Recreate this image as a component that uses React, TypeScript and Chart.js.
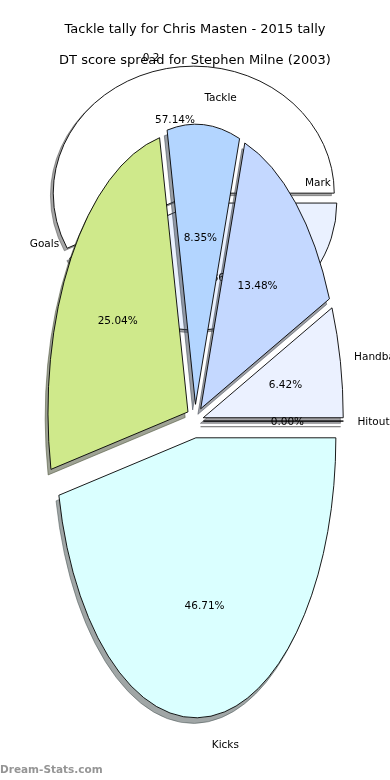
import React, { useEffect, useRef } from 'react';
import { Chart, registerables } from 'chart.js';
Chart.register(...registerables);

// ---- background pie: tackle tally ----
const bgTitle = 'Tackle tally for Chris Masten - 2015 tally';
const bgLabels = ['0.2', '0.1'];
const bgValues = [4, 3];
const bgColors = ['#ffffff', '#eaf1ff'];

// ---- foreground pie: DT score spread ----
const fgTitle = 'DT score spread for Stephen Milne (2003)';
const fgLabels = ['Hitout', 'Handball', 'Mark', 'Tackle', 'Goals', 'Kicks'];
const fgValues = [0, 6.42, 13.48, 8.35, 25.04, 46.71];
const fgColors = ['#f0f0f0', '#ebf1ff', '#c4d8ff', '#b3d5ff', '#cfe98b', '#daffff'];

const watermark = 'Dream-Stats.com';
const FONT = '"DejaVu Sans", Verdana, sans-serif';

function shadowColor(hex: string) {
  const n = parseInt(hex.slice(1), 16);
  const r = (n >> 16) & 255, g = (n >> 8) & 255, b = n & 255;
  return `rgba(${Math.round(r * 0.3)},${Math.round(g * 0.3)},${Math.round(b * 0.3)},0.5)`;
}

const ellipsePie = {
  id: 'ellipsePie',
  beforeDatasetsDraw(chart: any, _args: any, opts: any) {
    const ctx = chart.ctx as CanvasRenderingContext2D;
    const meta = chart.getDatasetMeta(0);
    const ds = chart.data.datasets[0];
    const total = ds.data.reduce((a: number, b: number) => a + b, 0);
    const { rx, ry, explode, shadowDx, shadowDy, pctDistance, labelDistance, fontSize, textDy } = opts;
    const wedges = meta.data.map((arc: any, i: number) => {
      const p = arc.getProps(['x', 'y', 'startAngle', 'endAngle'], true);
      const mid = (p.startAngle + p.endAngle) / 2;
      return {
        ax: p.x + explode * rx * Math.cos(mid),
        ay: p.y - explode * ry * Math.sin(mid),
        s: p.startAngle, e: p.endAngle, mid,
        color: ds.backgroundColor[i], i,
      };
    });
    const path = (w: any, dx: number, dy: number) => {
      ctx.beginPath();
      ctx.moveTo(w.ax + dx, w.ay + dy);
      ctx.ellipse(w.ax + dx, w.ay + dy, rx, ry, 0, -w.s, -w.e, true);
      ctx.closePath();
    };
    ctx.save();
    ctx.lineJoin = 'round';
    wedges.forEach((w: any) => {
      path(w, shadowDx, shadowDy);
      const c = shadowColor(w.color);
      ctx.fillStyle = c; ctx.strokeStyle = c; ctx.lineWidth = 1;
      ctx.fill(); ctx.stroke();
    });
    wedges.forEach((w: any) => {
      path(w, 0, 0);
      ctx.fillStyle = w.color; ctx.strokeStyle = '#000'; ctx.lineWidth = 0.9;
      ctx.fill(); ctx.stroke();
    });
    ctx.fillStyle = '#000';
    ctx.font = `${fontSize}px ${FONT}`;
    ctx.textBaseline = 'middle';
    wedges.forEach((w: any) => {
      const c = Math.cos(w.mid), s = Math.sin(w.mid);
      ctx.textAlign = c > 0 ? 'left' : 'right';
      ctx.fillText(String(chart.data.labels[w.i]), w.ax + labelDistance * rx * c, w.ay - labelDistance * ry * s + textDy);
      ctx.textAlign = 'center';
      const pct = ((100 * ds.data[w.i]) / total).toFixed(2) + '%';
      ctx.fillText(pct, w.ax + pctDistance * rx * c, w.ay - pctDistance * ry * s + textDy);
    });
    ctx.restore();
    return false;
  },
  afterDraw(chart: any, _args: any, opts: any) {
    if (!opts.watermark) return;
    const ctx = chart.ctx as CanvasRenderingContext2D;
    ctx.save();
    ctx.font = `bold 10.5px ${FONT}`;
    ctx.fillStyle = '#959595';
    ctx.textAlign = 'left';
    ctx.textBaseline = 'middle';
    ctx.fillText(opts.watermark, 0, chart.height - 9.5);
    ctx.restore();
  },
};

function makeConfig(title: string, labels: string[], values: number[], colors: string[], titleTop: number, padBottom: number, pie: any) {
  return {
    type: 'pie' as const,
    data: { labels, datasets: [{ data: values, backgroundColor: colors, borderWidth: 0 }] },
    options: {
      responsive: false,
      animation: false as const,
      events: [],
      rotation: 90,
      layout: { padding: { top: 0, bottom: padBottom, left: 0, right: 0 } },
      plugins: {
        legend: { display: false },
        tooltip: { enabled: false },
        title: {
          display: true, text: title, color: '#000',
          font: { family: FONT, size: 13, weight: 'normal' as const, lineHeight: 1.2 },
          padding: { top: titleTop, bottom: 0 },
        },
        ellipsePie: pie,
      },
    },
    plugins: [ellipsePie],
  };
}

export default function App() {
  const bgRef = useRef<HTMLCanvasElement>(null);
  const fgRef = useRef<HTMLCanvasElement>(null);
  useEffect(() => {
    const bg = new Chart(bgRef.current!, makeConfig(bgTitle, bgLabels, bgValues, bgColors, 21.9, 421.3, {
      rx: 140.5, ry: 127, explode: 0.04, shadowDx: -2.8, shadowDy: 2.5, pctDistance: 0.6, labelDistance: 1.1, fontSize: 10.5, textDy: 1.2,
    }) as any);
    const fg = new Chart(fgRef.current!, makeConfig(fgTitle, fgLabels, fgValues, fgColors, 53.1, 6.5, {
      rx: 140, ry: 280, explode: 0.06, shadowDx: -2.8, shadowDy: 5.6, pctDistance: 0.6, labelDistance: 1.1, fontSize: 10.5, textDy: 1.2,
      watermark,
    }) as any);
    return () => { bg.destroy(); fg.destroy(); };
  }, []);
  return (
    <div style={{ position: 'fixed', left: 0, top: 0, width: 390, height: 780, background: '#fff' }}>
      <canvas ref={bgRef} width={390} height={780} style={{ position: 'absolute', left: 0, top: 0 }} />
      <canvas ref={fgRef} width={390} height={780} style={{ position: 'absolute', left: 0, top: 0 }} />
    </div>
  );
}
